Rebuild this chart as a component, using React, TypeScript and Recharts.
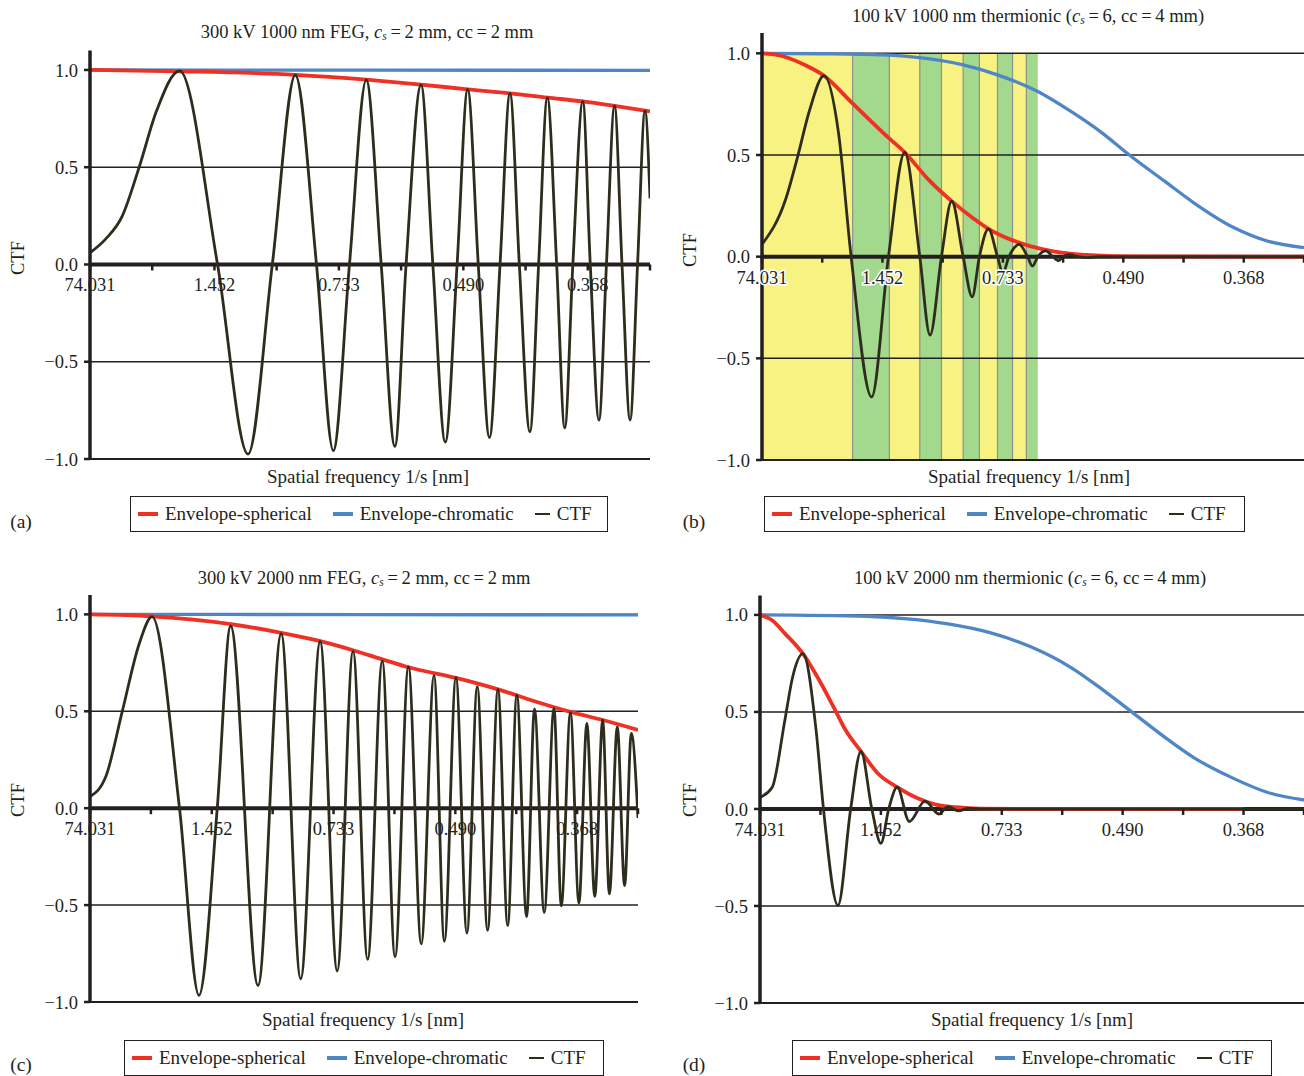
import React from 'react';
import { LineChart, Line, XAxis, YAxis, ReferenceLine, ReferenceArea, ReferenceDot } from 'recharts';

// x positions are in axis tick units (0 = 74.031 ... 9 = right end), y is CTF value
const xTicks = [0, 1, 2, 3, 4, 5, 6, 7, 8, 9];
const xTickLabels = ['74.031', '', '1.452', '', '0.733', '', '0.490', '', '0.368', ''];
const yTicks = [-1, -0.5, 0, 0.5, 1];
const gridLevels = [1, 0.5, -0.5, -1];

// (a) 300 kV 1000 nm FEG
const ctfA = [
  [0, 0.06], [0.25, 0.13], [0.52, 0.25], [0.79, 0.5], [1.07, 0.79], [1.44, 0.995],
  [2.05, 0], [2.54, -0.975], [2.93, 0], [3.3, 0.974], [3.64, 0], [3.91, -0.957], [4.17, 0],
  [4.44, 0.949], [4.68, 0], [4.9, -0.935], [5.08, 0], [5.32, 0.923], [5.51, 0], [5.71, -0.913],
  [5.9, 0], [6.07, 0.9], [6.24, 0], [6.42, -0.89], [6.59, 0], [6.75, 0.88], [6.9, 0], [7.07, -0.86],
  [7.21, 0], [7.35, 0.858], [7.5, 0], [7.63, -0.84], [7.76, 0], [7.92, 0.838], [8.04, 0], [8.18, -0.8],
  [8.3, 0], [8.43, 0.815], [8.55, 0], [8.68, -0.8], [8.8, 0], [8.92, 0.79], [9, 0.34],
];
const sphA = [[0, 1], [1.44, 0.993], [3.3, 0.975], [4.44, 0.95], [5.32, 0.925], [6.07, 0.9], [6.75, 0.88], [7.35, 0.858], [7.92, 0.838], [8.43, 0.815], [9, 0.787]];
const chrA = [[0, 1], [4.5, 0.999], [9, 0.998]];

// (b) 100 kV 1000 nm thermionic
const ctfB = [
  [0, 0.06], [0.39, 0.28], [0.59, 0.49], [0.79, 0.72], [1.03, 0.89], [1.27, 0.61], [1.48, 0],
  [1.82, -0.69], [2.1, 0], [2.37, 0.513], [2.62, 0], [2.79, -0.386], [2.98, 0], [3.15, 0.273],
  [3.34, 0], [3.49, -0.198], [3.61, 0], [3.76, 0.137], [3.91, 0], [4.0, -0.08], [4.1, 0], [4.27, 0.06],
  [4.41, 0], [4.49, -0.046], [4.58, 0], [4.71, 0.028], [4.83, 0], [4.92, -0.02], [5.0, 0], [5.1, 0.01],
  [5.25, 0], [5.4, -0.005], [5.6, 0], [9, 0],
];
const sphB = [[0, 1], [0.2, 0.995], [0.39, 0.982], [0.73, 0.94], [1.03, 0.89], [1.5, 0.755], [2.08, 0.59], [2.37, 0.513], [2.76, 0.38], [3.15, 0.273], [3.5, 0.19], [3.76, 0.137], [4.12, 0.085], [4.45, 0.052], [4.86, 0.025], [5.47, 0.007], [6.15, 0.001], [9, 0]];
const chrB = [[0, 1], [1.0, 0.998], [2.01, 0.992], [2.69, 0.976], [3.34, 0.943], [3.91, 0.894], [4.58, 0.812], [5.13, 0.714], [5.64, 0.61], [6.1, 0.5], [6.69, 0.37], [7.17, 0.265], [7.84, 0.142], [8.39, 0.077], [9, 0.044]];
// sign bands behind (b): yellow where CTF > 0, green where CTF < 0
const bandEdgesB = [0, 1.505, 2.115, 2.62, 2.98, 3.34, 3.61, 3.91, 4.16, 4.39, 4.58];

// (c) 300 kV 2000 nm FEG
const ctfC = [
  [0, 0.06], [0.26, 0.163], [0.53, 0.5], [0.81, 0.85], [1.02, 0.988], [1.47, 0], [1.79, -0.966],
  [2.09, 0], [2.31, 0.94], [2.76, -0.915], [3.14, 0.9], [3.46, -0.88], [3.78, 0.86], [4.06, -0.84],
  [4.32, 0.81], [4.56, -0.78], [4.8, 0.76], [5.01, -0.767], [5.23, 0.73], [5.44, -0.7], [5.65, 0.684],
  [5.82, -0.687], [6.01, 0.675], [6.19, -0.644], [6.36, 0.627], [6.53, -0.63], [6.7, 0.613],
  [6.86, -0.606], [7.01, 0.584], [7.17, -0.56], [7.3, 0.512], [7.46, -0.538], [7.62, 0.515],
  [7.74, -0.504], [7.89, 0.493], [8.03, -0.49], [8.16, 0.438], [8.29, -0.455], [8.42, 0.455],
  [8.53, -0.442], [8.66, 0.42], [8.78, -0.4], [8.89, 0.386], [9, -0.05],
];
const sphC = [[0, 1], [1.02, 0.99], [2.31, 0.95], [3.14, 0.905], [3.78, 0.862], [4.32, 0.815], [4.8, 0.768], [5.23, 0.727], [6.01, 0.672], [6.7, 0.613], [7.3, 0.552], [7.89, 0.497], [8.42, 0.455], [9, 0.404]];
const chrC = [[0, 1], [4.5, 0.999], [9, 0.997]];

// (d) 100 kV 2000 nm thermionic
const ctfD = [
  [0, 0.06], [0.2, 0.11], [0.41, 0.455], [0.54, 0.68], [0.71, 0.8], [0.93, 0.4], [1.05, 0],
  [1.29, -0.497], [1.5, 0], [1.67, 0.297], [1.85, 0], [2.0, -0.177], [2.13, 0], [2.27, 0.112],
  [2.47, -0.065], [2.73, 0.04], [2.96, -0.026], [3.11, 0.012], [3.28, -0.01], [3.45, 0.003], [3.7, 0], [9, 0],
];
const sphD = [[0, 1], [0.2, 0.972], [0.41, 0.905], [0.71, 0.8], [0.95, 0.68], [1.22, 0.524], [1.42, 0.404], [1.67, 0.297], [1.96, 0.18], [2.27, 0.112], [2.57, 0.06], [2.91, 0.022], [3.25, 0.009], [3.65, 0.002], [4.47, 0], [8, 0]];
const chrD = [[0, 1], [1.76, 0.993], [2.44, 0.98], [3.11, 0.954], [3.79, 0.91], [4.47, 0.837], [5.14, 0.73], [5.65, 0.619], [6.16, 0.498], [6.7, 0.369], [7.17, 0.266], [7.85, 0.155], [8.39, 0.086], [9, 0.046]];

const FONT = "'Liberation Serif', 'Times New Roman', serif";
const INK = '#231f20';
const RED = '#ee3124';
const BLUE = '#4f86c6';
const CTF_COLOR = '#2e2d1d';
const YELLOW = '#f8f283';
const GREEN = '#a3d98d';
const Y_AXIS_W = 50;

const rows = (pts: number[][]) => pts.map(([t, v]) => ({ t, v }));
const fmtY = (v: number) => (v < 0 ? '\u2212' : '') + Math.abs(v).toFixed(1);

type Box = { x: number; y: number; w: number; h: number };
type Plot = { l: number; r: number; t: number; b: number };

interface PanelProps {
  box: Box;
  plot: Plot;
  ctf: number[][];
  sph: number[][];
  chr: number[][];
  bands?: number[];
  halo?: boolean;
}

function tickShape(label: string, halo: boolean) {
  return (p: any) => (
    <g>
      <line x1={p.cx} y1={p.cy} x2={p.cx} y2={p.cy + 6} stroke={INK} strokeWidth={2.5} />
      {label ? (
        <text
          x={p.cx}
          y={p.cy + 27}
          textAnchor="middle"
          fontFamily={FONT}
          fontSize={18.5}
          fill={INK}
          stroke={halo ? '#ffffff' : 'none'}
          strokeWidth={halo ? 3 : 0}
          style={{ paintOrder: 'stroke' }}
        >
          {label}
        </text>
      ) : null}
    </g>
  );
}

function Panel({ box, plot, ctf, sph, chr, bands, halo = false }: PanelProps) {
  const margin = {
    top: plot.t - box.y,
    bottom: box.y + box.h - plot.b,
    left: plot.l - box.x - Y_AXIS_W,
    right: box.x + box.w - plot.r,
  };
  const bandPairs = bands ? bands.slice(0, -1).map((e, i) => [e, bands[i + 1]]) : [];

  return (
    <div style={{ position: 'absolute', left: box.x, top: box.y }}>
      <LineChart width={box.w} height={box.h} margin={margin}>
        <XAxis type="number" dataKey="t" domain={[0, 9]} ticks={xTicks} hide allowDataOverflow />
        <YAxis
          type="number"
          domain={[-1, 1.1]}
          ticks={yTicks}
          width={Y_AXIS_W}
          allowDataOverflow
          axisLine={{ stroke: INK, strokeWidth: 3.5 }}
          tickLine={{ stroke: INK, strokeWidth: 2.5 }}
          tickSize={6}
          tickMargin={6}
          tickFormatter={fmtY}
          tick={{ fill: INK, fontSize: 18.5, fontFamily: FONT }}
        />
        {bandPairs.map(([a, b], i) => (
          <ReferenceArea key={`band${i}`} x1={a} x2={b} y1={-1} y2={1} fill={i % 2 === 0 ? YELLOW : GREEN} fillOpacity={1} stroke="none" />
        ))}
        {bandPairs.slice(1).map(([a], i) => (
          <ReferenceLine key={`edge${i}`} segment={[{ x: a, y: -1 }, { x: a, y: 1 }]} stroke="#8f8f8f" strokeWidth={1.2} />
        ))}
        {gridLevels.map((g) => (
          <ReferenceLine key={`g${g}`} y={g} stroke={INK} strokeWidth={g === -1 ? 2 : 1.5} />
        ))}
        <ReferenceLine y={0} stroke={INK} strokeWidth={4} />
        {xTicks.map((t, i) => (
          <ReferenceDot key={`xt${t}`} x={t} y={0} r={0} shape={tickShape(xTickLabels[i], halo)} />
        ))}
        <Line data={rows(chr)} dataKey="v" type="monotone" stroke={BLUE} strokeWidth={3.3} dot={false} isAnimationActive={false} />
        <Line data={rows(sph)} dataKey="v" type="monotone" stroke={RED} strokeWidth={3.8} dot={false} isAnimationActive={false} />
        <Line data={rows(ctf)} dataKey="v" type="monotone" stroke={CTF_COLOR} strokeWidth={2.8} dot={false} isAnimationActive={false} />
      </LineChart>
    </div>
  );
}

const abs = (x: number, y: number, extra: React.CSSProperties = {}): React.CSSProperties => ({
  position: 'absolute',
  left: x,
  top: y,
  whiteSpace: 'nowrap',
  ...extra,
});

function Title({ cx, cy, before, after }: { cx: number; cy: number; before: string; after: string }) {
  return (
    <div style={abs(cx, cy, { transform: 'translate(-50%, -50%)', fontSize: 18.5, color: INK })}>
      {before}
      <i>c</i>
      <sub style={{ fontStyle: 'italic', fontSize: '0.62em', verticalAlign: '-0.25em' }}>s</sub>
      {after}
    </div>
  );
}

function Centered({ cx, cy, text, size = 19 }: { cx: number; cy: number; text: string; size?: number }) {
  return <div style={abs(cx, cy, { transform: 'translate(-50%, -50%)', fontSize: size, color: INK })}>{text}</div>;
}

function CtfLabel({ cx, cy }: { cx: number; cy: number }) {
  return (
    <div style={abs(cx, cy, { transform: 'translate(-50%, -50%) rotate(-90deg)', fontSize: 18.5, color: INK })}>CTF</div>
  );
}

const swatch = (color: string, w: number, h: number, ml: number): React.CSSProperties => ({
  display: 'inline-block',
  width: w,
  height: h,
  background: color,
  marginLeft: ml,
  marginRight: 7,
});

function LegendBox({ x, y, w }: { x: number; y: number; w: number }) {
  return (
    <div
      style={abs(x, y, {
        width: w,
        height: 36,
        border: `1.5px solid ${INK}`,
        boxSizing: 'border-box',
        display: 'flex',
        alignItems: 'center',
        fontSize: 19,
        color: INK,
      })}
    >
      <span style={swatch(RED, 20, 3.5, 7)} />
      <span>Envelope-spherical</span>
      <span style={swatch(BLUE, 20, 3.5, 21)} />
      <span>Envelope-chromatic</span>
      <span style={swatch(CTF_COLOR, 15, 2, 21)} />
      <span>CTF</span>
    </div>
  );
}

export default function App() {
  return (
    <div style={{ position: 'absolute', left: 0, top: 0, width: 1304, height: 1076, background: '#fff', fontFamily: FONT, overflow: 'hidden' }}>
      <Panel box={{ x: 0, y: 0, w: 660, h: 545 }} plot={{ l: 90, r: 650, t: 50.5, b: 459 }} ctf={ctfA} sph={sphA} chr={chrA} />
      <Panel box={{ x: 660, y: 0, w: 644, h: 545 }} plot={{ l: 762, r: 1304, t: 33, b: 460 }} ctf={ctfB} sph={sphB} chr={chrB} bands={bandEdgesB} halo />
      <Panel box={{ x: 0, y: 545, w: 660, h: 531 }} plot={{ l: 90, r: 638, t: 595, b: 1002 }} ctf={ctfC} sph={sphC} chr={chrC} />
      <Panel box={{ x: 660, y: 545, w: 644, h: 531 }} plot={{ l: 760, r: 1304, t: 595.5, b: 1003 }} ctf={ctfD} sph={sphD} chr={chrD} />

      <Title cx={367} cy={32} before="300 kV 1000 nm FEG, " after={'\u2009=\u20092 mm, cc\u2009=\u20092 mm'} />
      <Title cx={1028} cy={16} before="100 kV 1000 nm thermionic (" after={'\u2009=\u20096, cc\u2009=\u20094 mm)'} />
      <Title cx={364} cy={578} before="300 kV 2000 nm FEG, " after={'\u2009=\u20092 mm, cc\u2009=\u20092 mm'} />
      <Title cx={1030} cy={578} before="100 kV 2000 nm thermionic (" after={'\u2009=\u20096, cc\u2009=\u20094 mm)'} />

      <Centered cx={368} cy={477} text="Spatial frequency 1/s [nm]" />
      <Centered cx={1029} cy={477} text="Spatial frequency 1/s [nm]" />
      <Centered cx={363} cy={1020} text="Spatial frequency 1/s [nm]" />
      <Centered cx={1032} cy={1020} text="Spatial frequency 1/s [nm]" />

      <CtfLabel cx={18} cy={258} />
      <CtfLabel cx={690} cy={250} />
      <CtfLabel cx={18} cy={800} />
      <CtfLabel cx={690} cy={800} />

      <LegendBox x={130} y={496} w={478} />
      <LegendBox x={764} y={496} w={481} />
      <LegendBox x={124} y={1040} w={480} />
      <LegendBox x={792} y={1040} w={480} />

      <Centered cx={21} cy={522} text="(a)" size={19.5} />
      <Centered cx={694} cy={522} text="(b)" size={19.5} />
      <Centered cx={21} cy={1065} text="(c)" size={19.5} />
      <Centered cx={694} cy={1065} text="(d)" size={19.5} />
    </div>
  );
}
